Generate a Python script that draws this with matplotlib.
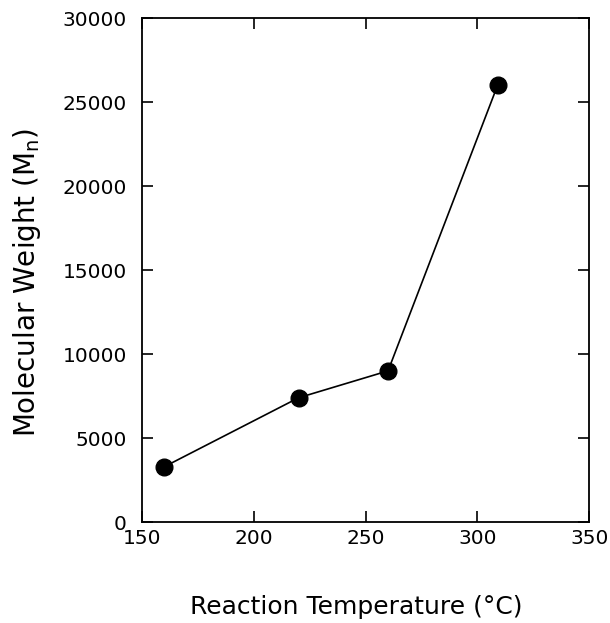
import matplotlib
matplotlib.use("Agg")
import matplotlib.pyplot as plt

temperature = [160, 220, 260, 309]
mol_weight = [3300, 7400, 9000, 26000]
x_ticks = [150, 200, 250, 300, 350]
y_ticks = [0, 5000, 10000, 15000, 20000, 25000, 30000]

plt.rcParams['font.family'] = ['DejaVu Sans']
plt.rcParams['mathtext.default'] = 'regular'

fig = plt.figure(figsize=(6.1, 6.23), dpi=100)
ax = fig.add_axes([0.233, 0.162, 0.733, 0.809])
ax.plot(temperature, mol_weight, color='black', lw=1.2, marker='o',
        markersize=12, markerfacecolor='black', markeredgecolor='black')
ax.set_xlim(150, 350)
ax.set_ylim(0, 30000)
ax.set_xticks(x_ticks)
ax.set_yticks(y_ticks)
ax.tick_params(direction='in', length=8, width=1.2, top=True, right=True,
               labelsize=14.5)
ax.tick_params(axis='x', labeltop=False, pad=5)
ax.tick_params(axis='y', pad=11)
for s in ax.spines.values():
    s.set_linewidth(1.3)
ax.set_xlabel('Reaction Temperature (°C)', fontsize=18)
ax.set_ylabel('Molecular Weight (M$_n$)', fontsize=20)
ax.xaxis.set_label_coords(0.479, -0.145)
ax.yaxis.set_label_coords(-0.222, 0.476)
fig.savefig('out.png', dpi=100)
